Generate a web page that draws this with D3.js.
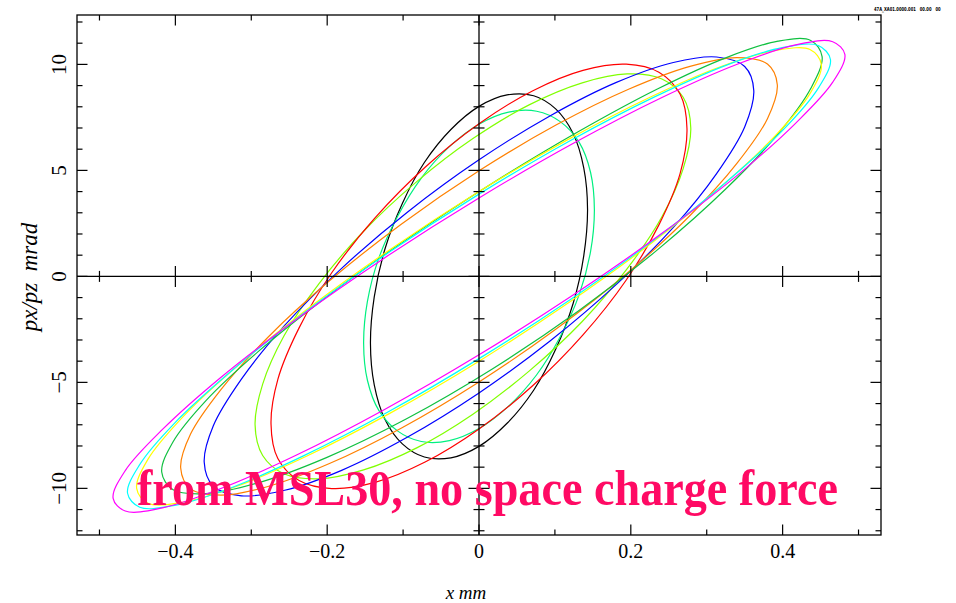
<!DOCTYPE html>
<html>
<head>
<meta charset="utf-8">
<script src="https://cdn.jsdelivr.net/npm/d3@7"></script>
<style>
  html, body { margin: 0; padding: 0; background: #ffffff; }
  svg { display: block; }
</style>
</head>
<body>
<svg id="chart" width="956" height="603"></svg>
<script>
// Phase-space contours (x [mm], px/pz [mrad]) at successive stations
const blackX = [0.143, 0.138, 0.124, 0.101, 0.072, 0.037, 0, -0.037, -0.072, -0.101, -0.124, -0.138,
                -0.143, -0.138, -0.124, -0.101, -0.072, -0.037, 0, 0.037, 0.072, 0.101, 0.124, 0.138];
const blackY = [3.15, 5.12, 6.74, 7.90, 8.52, 8.56, 8.02, 6.93, 5.37, 3.44, 1.28, -0.97,
                -3.15, -5.12, -6.74, -7.90, -8.52, -8.56, -8.02, -6.93, -5.37, -3.44, -1.28, 0.97];

const springX = [0.152, 0.147, 0.132, 0.107, 0.076, 0.039, 0, -0.039, -0.076, -0.107, -0.132, -0.147,
                 -0.152, -0.147, -0.132, -0.107, -0.076, -0.039, 0, 0.039, 0.076, 0.107, 0.132, 0.147];
const springY = [3.15, 4.90, 6.32, 7.30, 7.79, 7.75, 7.18, 6.12, 4.64, 2.85, 0.86, -1.18,
                 -3.15, -4.90, -6.32, -7.30, -7.79, -7.75, -7.18, -6.12, -4.64, -2.85, -0.86, 1.18];

const limeX = [0.279, 0.269, 0.241, 0.195, 0.136, 0.066, -0.008, -0.082, -0.152, -0.211, -0.257, -0.285,
               -0.295, -0.285, -0.257, -0.211, -0.152, -0.082, -0.008, 0.066, 0.136, 0.195, 0.241, 0.269];
const limeY = [7.00, 8.45, 9.31, 9.55, 9.13, 8.09, 6.50, 4.47, 2.13, -0.35, -2.81, -5.08,
               -7.00, -8.45, -9.31, -9.55, -9.13, -8.09, -6.50, -4.47, -2.13, 0.35, 2.81, 5.08];

const redX = [0.274, 0.265, 0.237, 0.194, 0.137, 0.071, 0, -0.071, -0.137, -0.194, -0.237, -0.265,
              -0.274, -0.265, -0.237, -0.194, -0.137, -0.071, 0, 0.071, 0.137, 0.194, 0.237, 0.265];
const redY = [6.96, 8.59, 9.63, 10.01, 9.72, 8.76, 7.20, 5.15, 2.76, 0.17, -2.43, -4.86,
              -6.96, -8.59, -9.63, -10.01, -9.72, -8.76, -7.20, -5.15, -2.76, -0.17, 2.43, 4.86];

const blueX = [0.362, 0.350, 0.313, 0.256, 0.181, 0.094, 0, -0.094, -0.181, -0.256, -0.313, -0.350,
               -0.362, -0.350, -0.313, -0.256, -0.181, -0.094, 0, 0.094, 0.181, 0.256, 0.313, 0.350];
const blueY = [8.77, 9.90, 10.35, 10.09, 9.15, 7.58, 5.50, 3.04, 0.38, -2.31, -4.85, -7.05,
               -8.77, -9.90, -10.35, -10.09, -9.15, -7.58, -5.50, -3.04, -0.38, 2.31, 4.85, 7.05];

const orangeX = [0.393, 0.380, 0.340, 0.278, 0.197, 0.102, 0, -0.102, -0.197, -0.278, -0.340, -0.380,
                 -0.393, -0.380, -0.340, -0.278, -0.197, -0.102, 0, 0.102, 0.197, 0.278, 0.340, 0.380];
const orangeY = [9.04, 10.02, 10.32, 9.91, 8.83, 7.15, 4.98, 2.47, -0.21, -2.87, -5.34, -7.44,
                 -9.04, -10.02, -10.32, -9.91, -8.83, -7.15, -4.98, -2.47, 0.21, 2.87, 5.34, 7.44];

const greenX = [0.452, 0.437, 0.394, 0.325, 0.235, 0.130, 0.017, -0.096, -0.201, -0.291, -0.360, -0.403,
                -0.418, -0.403, -0.360, -0.291, -0.201, -0.096, 0.017, 0.130, 0.235, 0.325, 0.394, 0.437];
const greenY = [10.37, 11.13, 11.10, 10.31, 8.84, 6.81, 4.38, 1.73, -0.97, -3.55, -5.87, -7.80,
                -9.23, -10.07, -10.25, -9.74, -8.55, -6.73, -4.38, -1.66, 1.25, 4.12, 6.72, 8.86];

const yellowX = [0.451, 0.436, 0.391, 0.319, 0.226, 0.117, 0, -0.117, -0.226, -0.319, -0.391, -0.436,
                 -0.451, -0.436, -0.391, -0.319, -0.226, -0.117, 0, 0.117, 0.226, 0.319, 0.391, 0.436];
const yellowY = [10.00, 10.70, 10.66, 9.90, 8.46, 6.45, 4.00, 1.27, -1.54, -4.24, -6.66, -8.62,
                 -10.00, -10.70, -10.66, -9.90, -8.46, -6.45, -4.00, -1.27, 1.54, 4.24, 6.66, 8.62];

const cyanX = [0.463, 0.447, 0.401, 0.327, 0.232, 0.120, 0, -0.120, -0.232, -0.327, -0.401, -0.447,
               -0.463, -0.447, -0.401, -0.327, -0.232, -0.120, 0, 0.120, 0.232, 0.327, 0.401, 0.447];
const cyanY = [10.23, 10.89, 10.80, 9.98, 8.48, 6.40, 3.88, 1.10, -1.76, -4.49, -6.92, -8.88,
               -10.23, -10.89, -10.80, -9.98, -8.48, -6.40, -3.88, -1.10, 1.76, 4.49, 6.92, 8.88];

const magentaX = [0.482, 0.466, 0.417, 0.341, 0.241, 0.125, 0, -0.125, -0.241, -0.341, -0.417, -0.466,
                  -0.482, -0.466, -0.417, -0.341, -0.241, -0.125, 0, 0.125, 0.241, 0.341, 0.417, 0.466];
const magentaY = [10.47, 11.07, 10.92, 10.02, 8.44, 6.29, 3.70, 0.86, -2.03, -4.79, -7.22, -9.16,
                  -10.47, -11.07, -10.92, -10.02, -8.44, -6.29, -3.70, -0.86, 2.03, 4.79, 7.22, 9.16];

const curveColors = ["#000000", "#00f080", "#80ff00", "#ff0000", "#0000ff",
                     "#ff8000", "#10c040", "#ffff00", "#00ffff", "#ff00ff"];
const curveXs = [blackX, springX, limeX, redX, blueX, orangeX, greenX, yellowX, cyanX, magentaX];
const curveYs = [blackY, springY, limeY, redY, blueY, orangeY, greenY, yellowY, cyanY, magentaY];

// Axis ticks
const xMajorTicks = [-0.4, -0.2, 0, 0.2, 0.4];
const xMinorTicks = [-0.5, -0.3, -0.1, 0.1, 0.3, 0.5];
const yMajorTicks = [-10, -5, 0, 5, 10];
const yMinorTicks = [-12, -11, -9, -8, -7, -6, -4, -3, -2, -1, 1, 2, 3, 4, 6, 7, 8, 9, 11, 12];

const titleText = "from MSL30, no space charge force";
const stampText = "47A_XA01.0000.001   00.00   00";

const svg = d3.select("#chart");
const plotLeft = 77, plotRight = 881, plotTop = 15, plotBottom = 535;

const x = d3.scaleLinear().domain([-0.5296, 0.5296]).range([plotLeft, plotRight]);
const y = d3.scaleLinear().domain([-12.2, 12.33]).range([plotBottom, plotTop]);

const fmt = v => (v < 0 ? "\u2212" : "") + d3.format("")(Math.abs(v));
const serif = "'Liberation Serif', 'Times New Roman', serif";

// Contours
const line = d3.line()
  .x(d => x(d[0]))
  .y(d => y(d[1]))
  .curve(d3.curveCatmullRomClosed.alpha(0.5));

svg.append("g").selectAll("path")
  .data(curveXs.map((xs, i) => ({ pts: xs.map((v, j) => [v, curveYs[i][j]]), color: curveColors[i] })))
  .join("path")
  .attr("d", d => line(d.pts))
  .attr("fill", "none")
  .attr("stroke", d => d.color)
  .attr("stroke-width", 1.2)
  .attr("stroke-linejoin", "round");

// Frame
const axisG = svg.append("g").attr("stroke", "#000").attr("fill", "none");
axisG.append("rect")
  .attr("x", plotLeft).attr("y", plotTop)
  .attr("width", plotRight - plotLeft).attr("height", plotBottom - plotTop)
  .attr("stroke-width", 1.3);

// Zero lines
axisG.append("line").attr("x1", plotLeft).attr("x2", plotRight)
  .attr("y1", y(0)).attr("y2", y(0)).attr("stroke-width", 1.3);
axisG.append("line").attr("y1", plotTop).attr("y2", plotBottom)
  .attr("x1", x(0)).attr("x2", x(0)).attr("stroke-width", 1.3);

const majorLen = 10.5, minorLen = 5.5;

function ticksX(vals, len) {
  vals.forEach(v => {
    axisG.append("line").attr("x1", x(v)).attr("x2", x(v)).attr("y1", plotBottom).attr("y2", plotBottom - len).attr("stroke-width", 1.2);
    axisG.append("line").attr("x1", x(v)).attr("x2", x(v)).attr("y1", plotTop).attr("y2", plotTop + len).attr("stroke-width", 1.2);
    axisG.append("line").attr("x1", x(v)).attr("x2", x(v)).attr("y1", y(0) - len).attr("y2", y(0) + len).attr("stroke-width", 1.2);
  });
}
function ticksY(vals, len) {
  vals.forEach(v => {
    axisG.append("line").attr("y1", y(v)).attr("y2", y(v)).attr("x1", plotLeft).attr("x2", plotLeft + len).attr("stroke-width", 1.2);
    axisG.append("line").attr("y1", y(v)).attr("y2", y(v)).attr("x1", plotRight).attr("x2", plotRight - len).attr("stroke-width", 1.2);
    axisG.append("line").attr("y1", y(v)).attr("y2", y(v)).attr("x1", x(0) - len).attr("x2", x(0) + len).attr("stroke-width", 1.2);
  });
}
ticksX(xMajorTicks, majorLen);
ticksX(xMinorTicks, minorLen);
ticksY(yMajorTicks, majorLen);
ticksY(yMinorTicks, minorLen);

// Tick labels
svg.append("g").selectAll("text")
  .data(xMajorTicks)
  .join("text")
  .attr("x", d => x(d))
  .attr("y", 558)
  .attr("text-anchor", "middle")
  .attr("font-family", serif)
  .attr("font-size", 20)
  .attr("fill", "#000")
  .text(fmt);

svg.append("g").selectAll("text")
  .data(yMajorTicks)
  .join("text")
  .attr("transform", d => `translate(66,${y(d)}) rotate(-90)`)
  .attr("text-anchor", "middle")
  .attr("font-family", serif)
  .attr("font-size", 21)
  .attr("fill", "#000")
  .text(fmt);

// Axis titles
svg.append("text")
  .attr("x", 466).attr("y", 599)
  .attr("text-anchor", "middle")
  .attr("font-family", serif)
  .attr("font-style", "italic")
  .attr("font-size", 19)
  .attr("fill", "#000")
  .text("x mm");

svg.append("text")
  .attr("transform", "translate(37,277) rotate(-90)")
  .attr("text-anchor", "middle")
  .attr("font-family", serif)
  .attr("font-style", "italic")
  .attr("font-size", 23)
  .attr("fill", "#000")
  .attr("xml:space", "preserve")
  .text("px/pz  mrad");

// Run stamp, squeezed horizontally to fit the top-right corner
svg.append("text")
  .attr("transform", "translate(874,11) scale(0.68,1)")
  .attr("font-family", "'DejaVu Sans', sans-serif")
  .attr("font-weight", "bold")
  .attr("font-size", 5.5)
  .attr("fill", "#000")
  .attr("xml:space", "preserve")
  .text(stampText);

// Annotation
const title = svg.append("text")
  .attr("transform", "translate(137,505) scale(1,1.12)")
  .attr("font-family", serif)
  .attr("font-weight", "bold")
  .attr("font-size", 46)
  .attr("fill", "#ff0a64")
  .text(titleText);
const w = title.node().getComputedTextLength();
if (w > 0) title.attr("font-size", 46 * 701 / w);
</script>
</body>
</html>
